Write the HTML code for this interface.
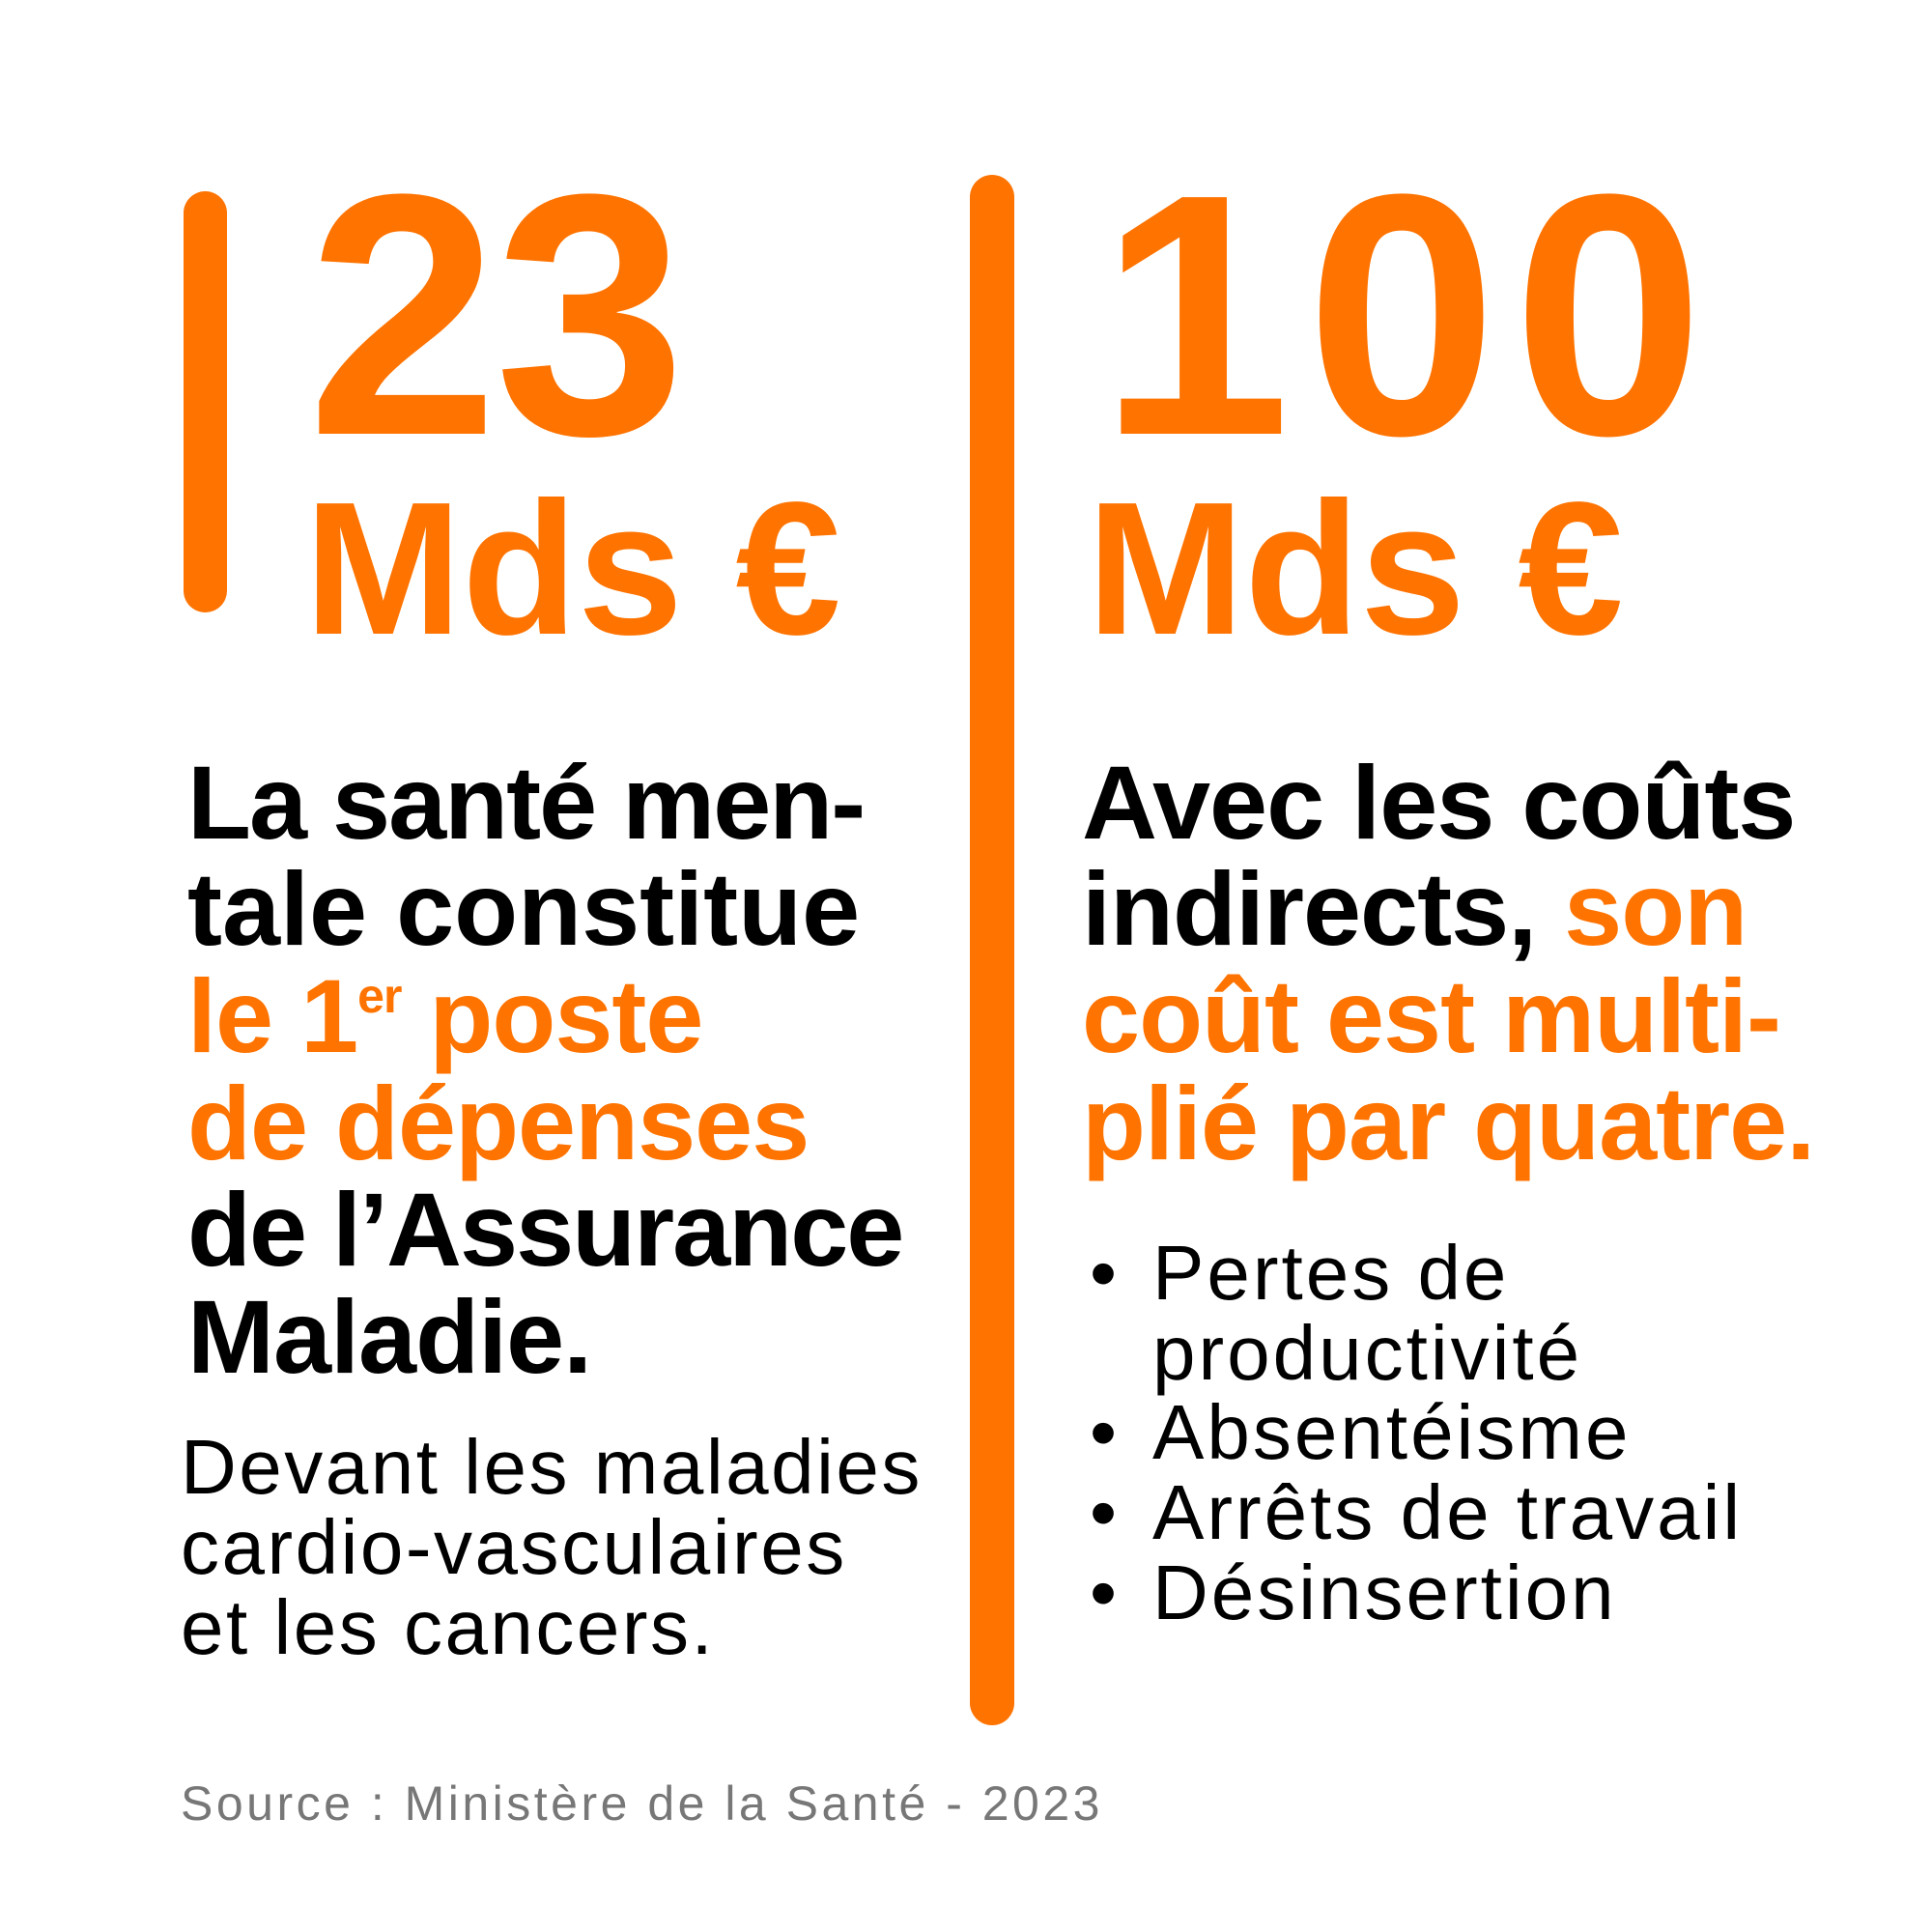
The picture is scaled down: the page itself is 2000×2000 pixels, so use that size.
<!DOCTYPE html>
<html><head><meta charset="utf-8"><style>
body{margin:0;width:2000px;height:2000px;background:#fff;position:relative;overflow:hidden;font-family:"Liberation Sans",sans-serif}
.a{position:absolute;white-space:nowrap;line-height:1}
.o{color:#ff7300}
.k{color:#000}
.big{font-size:356px;font-weight:bold;color:#ff7300;letter-spacing:-4px}
.mds{font-size:196px;font-weight:bold;color:#ff7300}
.b{font-size:108px;font-weight:bold;letter-spacing:-1px}
.r{font-size:80px;color:#000;letter-spacing:2.5px}
.bar{position:absolute;background:#ff7300;border-radius:24px}
sup{font-size:50px;vertical-align:top;position:relative;top:8px}
</style></head><body>
<div class="bar" style="left:190px;top:198px;width:45px;height:436px"></div>
<div class="bar" style="left:1004px;top:181px;width:46px;height:1605px"></div>

<div class="a big" style="left:318px;top:149px">23</div>
<div class="a mds" style="left:315px;top:491px">Mds €</div>
<div class="a big" style="left:1138px;top:149px;letter-spacing:16px">100</div>
<div class="a mds" style="left:1125px;top:491px">Mds €</div>

<div class="a b k" style="left:194px;top:777px;letter-spacing:-2px">La santé men-</div>
<div class="a b k" style="left:194px;top:887px;letter-spacing:0px">tale constitue</div>
<div class="a b o" style="left:194px;top:998px">le 1<sup>er</sup> poste</div>
<div class="a b o" style="left:194px;top:1109px">de dépenses</div>
<div class="a b k" style="left:194px;top:1219px;letter-spacing:-2px">de l’Assurance</div>
<div class="a b k" style="left:194px;top:1330px">Maladie.</div>

<div class="a r" style="left:187px;top:1479px">Devant les maladies</div>
<div class="a r" style="left:187px;top:1562px">cardio-vasculaires</div>
<div class="a r" style="left:187px;top:1645px">et les cancers.</div>

<div class="a b k" style="left:1120px;top:777px">Avec les coûts</div>
<div class="a b k" style="left:1120px;top:887px">indirects, <span class="o">son</span></div>
<div class="a b o" style="left:1120px;top:998px">coût est multi-</div>
<div class="a b o" style="left:1120px;top:1109px">plié par quatre.</div>

<div class="a r" style="left:1128px;top:1278px">•</div>
<div class="a r" style="left:1193px;top:1278px;letter-spacing:3px">Pertes de</div>
<div class="a r" style="left:1193px;top:1361px;letter-spacing:3px">productivité</div>
<div class="a r" style="left:1128px;top:1443px">•</div>
<div class="a r" style="left:1193px;top:1443px;letter-spacing:3px">Absentéisme</div>
<div class="a r" style="left:1128px;top:1526px">•</div>
<div class="a r" style="left:1193px;top:1526px;letter-spacing:3px">Arrêts de travail</div>
<div class="a r" style="left:1128px;top:1609px">•</div>
<div class="a r" style="left:1193px;top:1609px;letter-spacing:3px">Désinsertion</div>

<div class="a" style="left:187px;top:1842px;font-size:50px;color:#777;letter-spacing:3.5px">Source : Ministère de la Santé - 2023</div>
</body></html>
